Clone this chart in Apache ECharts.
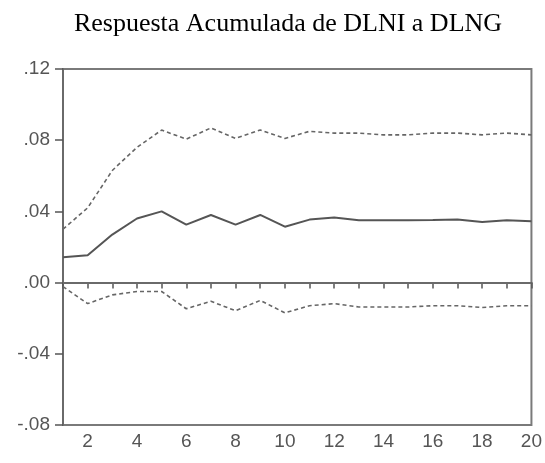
<!DOCTYPE html>
<html>
<head>
<meta charset="utf-8">
<script src="https://cdn.jsdelivr.net/npm/echarts@6/dist/echarts.min.js"></script>
<style>html,body{margin:0;padding:0;background:#fff}#c{width:545px;height:463px}</style>
</head>
<body>
<div id="c"></div>
<script>
var periods = [1,2,3,4,5,6,7,8,9,10,11,12,13,14,15,16,17,18,19,20];
var response = [0.0143,0.0154,0.027,0.036,0.040,0.0326,0.038,0.0326,0.038,0.0314,0.0354,0.0366,0.035,0.035,0.035,0.0352,0.0355,0.034,0.035,0.0345];
var upperBand = [0.030,0.042,0.063,0.076,0.0857,0.0806,0.0869,0.081,0.0857,0.081,0.085,0.084,0.084,0.083,0.083,0.084,0.084,0.083,0.084,0.083];
var lowerBand = [-0.0023,-0.0118,-0.0069,-0.005,-0.005,-0.0147,-0.0105,-0.0158,-0.010,-0.017,-0.013,-0.0118,-0.0137,-0.0137,-0.0137,-0.013,-0.013,-0.014,-0.013,-0.013];
var yTicks = {min:-0.08, max:0.12, step:0.04};

var chart = echarts.init(document.getElementById('c'), null, {renderer:'canvas'});
function fmt(v){
  var s = Math.abs(v).toFixed(2).replace(/^0/, '');
  return (v < -1e-9 ? '-' : '') + s;
}
chart.setOption({
  animation:false,
  backgroundColor:'#fff',
  title:{
    text:'Respuesta Acumulada de DLNI a DLNG',
    left:283, top:6, textAlign:'center',
    textStyle:{fontFamily:'Liberation Serif', fontSize:26, fontWeight:'normal', color:'#000'}
  },
  grid:{left:63, right:12, top:69, bottom:38, show:true, borderColor:'#7a7a7a', borderWidth:2, backgroundColor:'#fff'},
  xAxis:{
    type:'category', data:periods, boundaryGap:false,
    axisLine:{show:true, lineStyle:{color:'#6a6a6a', width:2}},
    axisTick:{show:true, interval:0, length:6, lineStyle:{color:'#555', width:1.5}},
    axisLabel:{interval:function(i,v){return Number(v)%2===0;}, color:'#555', fontFamily:'Liberation Sans', fontSize:19, margin:7},
    splitLine:{show:false}
  },
  yAxis:{
    type:'value', min:yTicks.min, max:yTicks.max, interval:yTicks.step,
    axisLine:{show:true, lineStyle:{color:'#6a6a6a', width:2}},
    axisTick:{show:true, length:8, lineStyle:{color:'#555', width:1.5}},
    axisLabel:{formatter:fmt, color:'#555', fontFamily:'Liberation Sans', fontSize:19, margin:13},
    splitLine:{show:false}
  },
  series:[
    {type:'line', data:response, symbol:'none', lineStyle:{color:'#555', width:2, type:'solid'},
     markLine:{silent:true, symbol:'none', label:{show:false}, lineStyle:{color:'#6a6a6a', width:2, type:'solid'}, data:[{yAxis:0}]}},
    {type:'line', data:upperBand, symbol:'none', lineStyle:{color:'#666', width:1.6, type:[4,3]}},
    {type:'line', data:lowerBand, symbol:'none', lineStyle:{color:'#666', width:1.6, type:[4,3]}}
  ]
});
</script>
</body>
</html>
